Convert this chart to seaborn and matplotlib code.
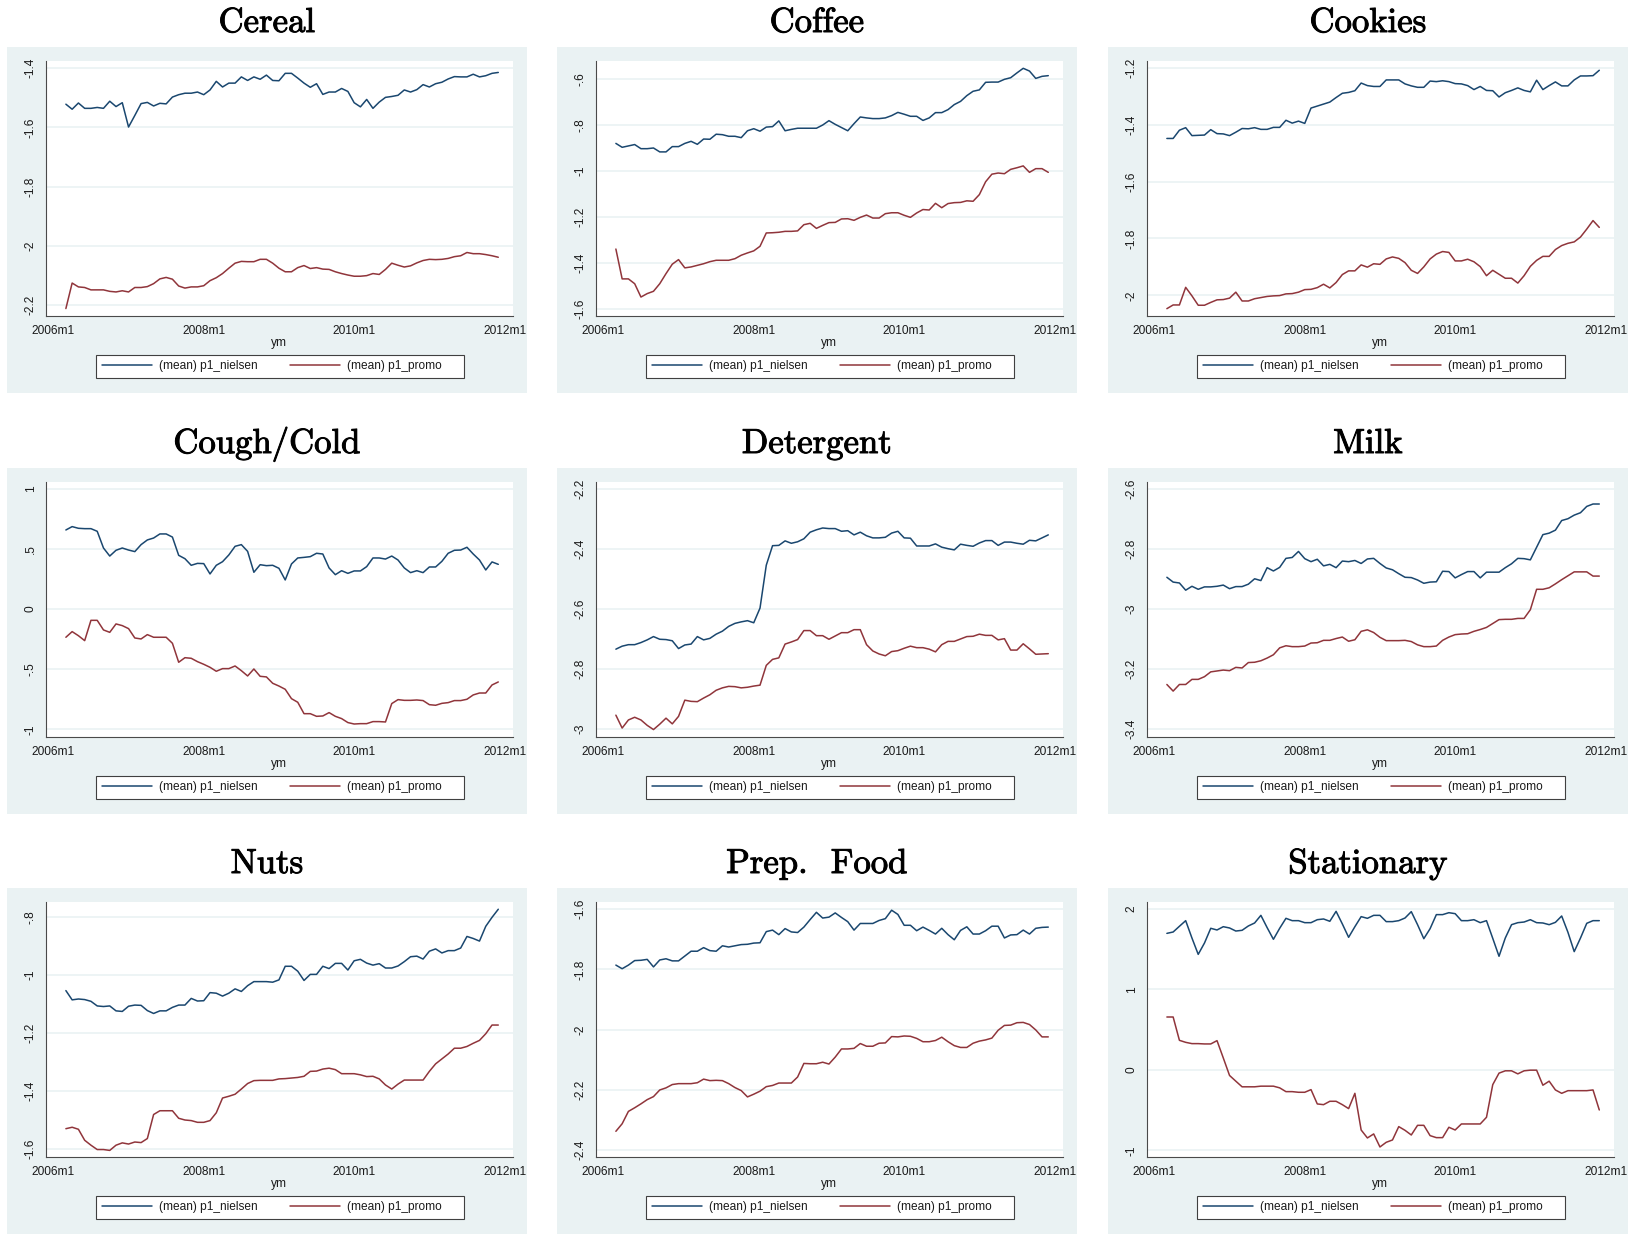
import matplotlib
matplotlib.use("Agg")
import matplotlib.pyplot as plt
import matplotlib.patheffects as pe
import seaborn as sns
import pandas as pd
from matplotlib.patches import Rectangle

# Monthly means, 2006m3 .. 2011m12 (70 months)
cereal_nielsen = [
    -1.522, -1.539, -1.518, -1.536, -1.536, -1.533, -1.536, -1.512, -1.530, -1.517,
    -1.599, -1.560, -1.520, -1.516, -1.528, -1.519, -1.521, -1.498, -1.490, -1.485,
    -1.485, -1.481, -1.490, -1.474, -1.445, -1.464, -1.451, -1.451, -1.430, -1.442,
    -1.430, -1.438, -1.424, -1.442, -1.443, -1.418, -1.418, -1.434, -1.451, -1.465,
    -1.453, -1.489, -1.481, -1.481, -1.469, -1.479, -1.517, -1.531, -1.506, -1.536,
    -1.515, -1.499, -1.496, -1.492, -1.474, -1.481, -1.473, -1.456, -1.464, -1.453,
    -1.448, -1.437, -1.429, -1.430, -1.430, -1.421, -1.430, -1.426, -1.418, -1.415]
cereal_promo = [
    -2.211, -2.125, -2.138, -2.140, -2.148, -2.148, -2.148, -2.153, -2.155, -2.151,
    -2.155, -2.140, -2.140, -2.137, -2.127, -2.111, -2.106, -2.112, -2.135, -2.142,
    -2.138, -2.138, -2.134, -2.117, -2.107, -2.093, -2.075, -2.058, -2.052, -2.053,
    -2.053, -2.045, -2.045, -2.058, -2.075, -2.087, -2.087, -2.073, -2.066, -2.076,
    -2.073, -2.078, -2.079, -2.087, -2.093, -2.098, -2.102, -2.102, -2.100, -2.093,
    -2.096, -2.079, -2.058, -2.065, -2.071, -2.067, -2.057, -2.049, -2.045, -2.046,
    -2.045, -2.042, -2.036, -2.033, -2.022, -2.026, -2.026, -2.029, -2.033, -2.038]

coffee_nielsen = [
    -0.879, -0.896, -0.890, -0.884, -0.902, -0.902, -0.899, -0.916, -0.916, -0.893,
    -0.893, -0.879, -0.870, -0.883, -0.860, -0.861, -0.839, -0.841, -0.848, -0.848,
    -0.854, -0.824, -0.815, -0.826, -0.808, -0.806, -0.781, -0.824, -0.818, -0.813,
    -0.813, -0.813, -0.813, -0.799, -0.780, -0.796, -0.810, -0.824, -0.793, -0.764,
    -0.768, -0.771, -0.771, -0.768, -0.758, -0.744, -0.752, -0.761, -0.761, -0.779,
    -0.768, -0.745, -0.745, -0.732, -0.710, -0.696, -0.671, -0.652, -0.646, -0.613,
    -0.612, -0.612, -0.600, -0.593, -0.572, -0.552, -0.564, -0.596, -0.587, -0.584]
coffee_promo = [
    -1.339, -1.469, -1.469, -1.490, -1.548, -1.533, -1.523, -1.490, -1.446, -1.405,
    -1.385, -1.421, -1.417, -1.410, -1.403, -1.394, -1.388, -1.388, -1.388, -1.381,
    -1.366, -1.356, -1.347, -1.327, -1.269, -1.268, -1.266, -1.262, -1.262, -1.260,
    -1.233, -1.227, -1.249, -1.236, -1.224, -1.223, -1.208, -1.207, -1.214, -1.201,
    -1.191, -1.204, -1.204, -1.185, -1.181, -1.181, -1.192, -1.201, -1.182, -1.167,
    -1.169, -1.140, -1.159, -1.141, -1.137, -1.136, -1.129, -1.131, -1.102, -1.046,
    -1.013, -1.008, -1.011, -0.992, -0.985, -0.977, -1.005, -0.989, -0.989, -1.005]

cookies_nielsen = [
    -1.448, -1.448, -1.419, -1.410, -1.438, -1.437, -1.436, -1.417, -1.431, -1.432,
    -1.438, -1.426, -1.413, -1.414, -1.410, -1.416, -1.416, -1.409, -1.409, -1.384,
    -1.394, -1.387, -1.395, -1.341, -1.334, -1.327, -1.320, -1.304, -1.289, -1.286,
    -1.280, -1.253, -1.262, -1.265, -1.265, -1.242, -1.242, -1.242, -1.256, -1.263,
    -1.268, -1.268, -1.246, -1.248, -1.245, -1.248, -1.255, -1.256, -1.262, -1.276,
    -1.265, -1.279, -1.280, -1.302, -1.287, -1.279, -1.270, -1.279, -1.284, -1.243,
    -1.276, -1.262, -1.249, -1.263, -1.263, -1.242, -1.228, -1.228, -1.227, -1.208]
cookies_promo = [
    -2.047, -2.034, -2.034, -1.972, -2.002, -2.035, -2.035, -2.025, -2.016, -2.015,
    -2.010, -1.989, -2.020, -2.020, -2.012, -2.008, -2.004, -2.002, -2.001, -1.995,
    -1.994, -1.989, -1.980, -1.979, -1.973, -1.961, -1.974, -1.955, -1.927, -1.914,
    -1.914, -1.893, -1.901, -1.889, -1.891, -1.872, -1.865, -1.870, -1.885, -1.912,
    -1.923, -1.900, -1.872, -1.855, -1.846, -1.849, -1.879, -1.879, -1.873, -1.882,
    -1.899, -1.931, -1.912, -1.926, -1.940, -1.940, -1.957, -1.931, -1.898, -1.877,
    -1.863, -1.863, -1.839, -1.825, -1.817, -1.812, -1.795, -1.767, -1.737, -1.761]

cough_nielsen = [
    0.659, 0.687, 0.673, 0.670, 0.670, 0.648, 0.509, 0.442, 0.490, 0.509,
    0.492, 0.479, 0.537, 0.576, 0.592, 0.626, 0.626, 0.600, 0.448, 0.420,
    0.365, 0.381, 0.379, 0.293, 0.365, 0.395, 0.451, 0.523, 0.537, 0.481,
    0.307, 0.370, 0.362, 0.365, 0.340, 0.243, 0.376, 0.426, 0.431, 0.437,
    0.465, 0.459, 0.343, 0.287, 0.320, 0.298, 0.318, 0.318, 0.354, 0.426,
    0.426, 0.417, 0.442, 0.409, 0.343, 0.304, 0.320, 0.304, 0.351, 0.351,
    0.398, 0.465, 0.490, 0.492, 0.515, 0.459, 0.409, 0.326, 0.393, 0.373]
cough_promo = [
    -0.234, -0.187, -0.221, -0.262, -0.093, -0.093, -0.173, -0.193, -0.123, -0.137,
    -0.162, -0.240, -0.248, -0.212, -0.234, -0.234, -0.234, -0.284, -0.442, -0.404,
    -0.409, -0.437, -0.459, -0.484, -0.517, -0.495, -0.495, -0.473, -0.512, -0.556,
    -0.498, -0.559, -0.564, -0.617, -0.640, -0.667, -0.745, -0.775, -0.870, -0.870,
    -0.892, -0.889, -0.861, -0.892, -0.911, -0.944, -0.956, -0.953, -0.953, -0.936,
    -0.936, -0.939, -0.786, -0.753, -0.759, -0.759, -0.756, -0.761, -0.795, -0.800,
    -0.784, -0.778, -0.761, -0.761, -0.750, -0.714, -0.698, -0.698, -0.631, -0.606]

detergent_nielsen = [
    -2.734, -2.724, -2.719, -2.719, -2.712, -2.703, -2.692, -2.701, -2.702, -2.706,
    -2.732, -2.720, -2.717, -2.692, -2.703, -2.698, -2.684, -2.674, -2.658, -2.648,
    -2.643, -2.639, -2.646, -2.597, -2.454, -2.389, -2.388, -2.373, -2.381, -2.376,
    -2.366, -2.344, -2.336, -2.330, -2.332, -2.332, -2.341, -2.339, -2.353, -2.344,
    -2.356, -2.363, -2.363, -2.361, -2.347, -2.341, -2.363, -2.364, -2.390, -2.390,
    -2.390, -2.383, -2.394, -2.399, -2.403, -2.384, -2.388, -2.391, -2.380, -2.372,
    -2.372, -2.388, -2.377, -2.377, -2.381, -2.384, -2.371, -2.373, -2.363, -2.353]
detergent_promo = [
    -2.954, -2.997, -2.970, -2.961, -2.970, -2.988, -3.002, -2.984, -2.964, -2.983,
    -2.958, -2.904, -2.908, -2.909, -2.897, -2.886, -2.871, -2.863, -2.858, -2.859,
    -2.863, -2.861, -2.857, -2.854, -2.788, -2.768, -2.763, -2.717, -2.710, -2.702,
    -2.672, -2.672, -2.689, -2.689, -2.701, -2.690, -2.679, -2.679, -2.669, -2.669,
    -2.719, -2.740, -2.750, -2.756, -2.742, -2.739, -2.731, -2.724, -2.729, -2.729,
    -2.734, -2.743, -2.719, -2.708, -2.708, -2.700, -2.692, -2.691, -2.684, -2.688,
    -2.688, -2.703, -2.699, -2.737, -2.737, -2.716, -2.733, -2.751, -2.750, -2.749]

milk_nielsen = [
    -2.894, -2.910, -2.913, -2.937, -2.924, -2.934, -2.926, -2.926, -2.924, -2.920,
    -2.932, -2.925, -2.925, -2.917, -2.899, -2.905, -2.862, -2.873, -2.861, -2.831,
    -2.828, -2.808, -2.832, -2.842, -2.834, -2.856, -2.851, -2.862, -2.840, -2.842,
    -2.838, -2.848, -2.833, -2.831, -2.848, -2.863, -2.869, -2.882, -2.894, -2.895,
    -2.903, -2.914, -2.910, -2.909, -2.874, -2.875, -2.896, -2.885, -2.875, -2.875,
    -2.896, -2.877, -2.877, -2.877, -2.862, -2.849, -2.831, -2.832, -2.836, -2.794,
    -2.752, -2.747, -2.737, -2.705, -2.699, -2.687, -2.679, -2.658, -2.650, -2.650]
milk_promo = [
    -3.251, -3.273, -3.251, -3.251, -3.234, -3.234, -3.225, -3.209, -3.206, -3.203,
    -3.205, -3.194, -3.196, -3.178, -3.177, -3.172, -3.163, -3.152, -3.129, -3.122,
    -3.125, -3.125, -3.123, -3.113, -3.112, -3.104, -3.104, -3.098, -3.093, -3.107,
    -3.102, -3.074, -3.069, -3.078, -3.094, -3.105, -3.105, -3.105, -3.104, -3.108,
    -3.119, -3.125, -3.125, -3.123, -3.104, -3.093, -3.085, -3.083, -3.082, -3.074,
    -3.068, -3.061, -3.048, -3.035, -3.034, -3.034, -3.031, -3.031, -3.002, -2.934,
    -2.934, -2.929, -2.916, -2.902, -2.889, -2.876, -2.876, -2.876, -2.890, -2.890]

nuts_nielsen = [
    -1.053, -1.085, -1.082, -1.084, -1.090, -1.106, -1.108, -1.106, -1.123, -1.125,
    -1.107, -1.103, -1.104, -1.122, -1.132, -1.123, -1.123, -1.111, -1.103, -1.103,
    -1.080, -1.089, -1.088, -1.060, -1.062, -1.072, -1.062, -1.047, -1.056, -1.036,
    -1.022, -1.022, -1.022, -1.024, -1.016, -0.969, -0.969, -0.986, -1.018, -0.997,
    -0.997, -0.969, -0.977, -0.959, -0.959, -0.982, -0.950, -0.945, -0.958, -0.965,
    -0.960, -0.975, -0.975, -0.968, -0.953, -0.936, -0.934, -0.944, -0.917, -0.909,
    -0.923, -0.915, -0.915, -0.906, -0.866, -0.873, -0.882, -0.831, -0.800, -0.772]
nuts_promo = [
    -1.530, -1.525, -1.532, -1.570, -1.587, -1.602, -1.602, -1.605, -1.587, -1.579,
    -1.583, -1.576, -1.578, -1.564, -1.481, -1.468, -1.468, -1.468, -1.494, -1.500,
    -1.502, -1.508, -1.508, -1.502, -1.475, -1.424, -1.418, -1.411, -1.393, -1.374,
    -1.364, -1.363, -1.363, -1.363, -1.358, -1.357, -1.355, -1.353, -1.349, -1.332,
    -1.331, -1.324, -1.321, -1.326, -1.340, -1.340, -1.340, -1.344, -1.350, -1.349,
    -1.358, -1.379, -1.393, -1.376, -1.362, -1.362, -1.362, -1.362, -1.332, -1.306,
    -1.289, -1.272, -1.252, -1.252, -1.246, -1.235, -1.225, -1.202, -1.172, -1.172]

prep_nielsen = [
    -1.786, -1.798, -1.786, -1.771, -1.770, -1.767, -1.792, -1.769, -1.765, -1.772,
    -1.772, -1.756, -1.740, -1.740, -1.728, -1.738, -1.740, -1.722, -1.726, -1.722,
    -1.718, -1.717, -1.713, -1.712, -1.675, -1.670, -1.685, -1.665, -1.676, -1.678,
    -1.660, -1.635, -1.611, -1.630, -1.627, -1.613, -1.628, -1.642, -1.670, -1.648,
    -1.648, -1.648, -1.638, -1.632, -1.604, -1.618, -1.654, -1.654, -1.672, -1.660,
    -1.671, -1.683, -1.664, -1.685, -1.702, -1.671, -1.659, -1.683, -1.683, -1.672,
    -1.657, -1.657, -1.696, -1.686, -1.685, -1.670, -1.683, -1.664, -1.661, -1.660]
prep_promo = [
    -2.337, -2.312, -2.271, -2.259, -2.246, -2.232, -2.222, -2.200, -2.193, -2.182,
    -2.179, -2.179, -2.179, -2.176, -2.164, -2.169, -2.168, -2.169, -2.179, -2.192,
    -2.202, -2.223, -2.214, -2.204, -2.189, -2.185, -2.177, -2.177, -2.177, -2.157,
    -2.112, -2.113, -2.113, -2.108, -2.114, -2.091, -2.064, -2.064, -2.062, -2.046,
    -2.055, -2.055, -2.045, -2.044, -2.023, -2.024, -2.021, -2.022, -2.029, -2.040,
    -2.040, -2.036, -2.025, -2.040, -2.053, -2.059, -2.059, -2.045, -2.038, -2.034,
    -2.028, -2.002, -1.986, -1.985, -1.977, -1.976, -1.983, -2.001, -2.024, -2.024]

stationary_nielsen = [
    1.697, 1.714, 1.785, 1.855, 1.639, 1.436, 1.577, 1.760, 1.739, 1.780,
    1.764, 1.726, 1.735, 1.789, 1.826, 1.921, 1.768, 1.623, 1.760, 1.884,
    1.855, 1.855, 1.830, 1.830, 1.867, 1.876, 1.847, 1.971, 1.814, 1.648,
    1.780, 1.905, 1.884, 1.921, 1.921, 1.843, 1.843, 1.855, 1.888, 1.967,
    1.805, 1.631, 1.755, 1.930, 1.930, 1.954, 1.942, 1.855, 1.855, 1.867,
    1.830, 1.855, 1.635, 1.412, 1.639, 1.805, 1.830, 1.838, 1.867, 1.830,
    1.826, 1.805, 1.834, 1.913, 1.710, 1.470, 1.639, 1.822, 1.855, 1.855]
stationary_promo = [
    0.657, 0.657, 0.367, 0.342, 0.326, 0.326, 0.322, 0.322, 0.363, 0.148,
    -0.070, -0.141, -0.211, -0.211, -0.211, -0.203, -0.203, -0.203, -0.224, -0.271,
    -0.271, -0.279, -0.279, -0.246, -0.424, -0.433, -0.391, -0.391, -0.433, -0.482,
    -0.292, -0.748, -0.847, -0.797, -0.959, -0.901, -0.872, -0.706, -0.752, -0.810,
    -0.690, -0.690, -0.818, -0.843, -0.843, -0.714, -0.748, -0.673, -0.673, -0.673,
    -0.673, -0.590, -0.184, -0.041, -0.012, -0.012, -0.050, -0.012, -0.004, -0.004,
    -0.191, -0.141, -0.250, -0.292, -0.259, -0.259, -0.259, -0.259, -0.250, -0.499]

titles = ["Cereal", "Coffee", "Cookies", "Cough/Cold", "Detergent", "Milk",
          "Nuts", "Prep.  Food", "Stationary"]
nielsen = [cereal_nielsen, coffee_nielsen, cookies_nielsen, cough_nielsen,
           detergent_nielsen, milk_nielsen, nuts_nielsen, prep_nielsen,
           stationary_nielsen]
promo = [cereal_promo, coffee_promo, cookies_promo, cough_promo,
         detergent_promo, milk_promo, nuts_promo, prep_promo, stationary_promo]

# y ticks and their Stata-style labels for each category
yticks = [
    [-2.2, -2.0, -1.8, -1.6, -1.4],
    [-1.6, -1.4, -1.2, -1.0, -0.8, -0.6],
    [-2.0, -1.8, -1.6, -1.4, -1.2],
    [-1.0, -0.5, 0.0, 0.5, 1.0],
    [-3.0, -2.8, -2.6, -2.4, -2.2],
    [-3.4, -3.2, -3.0, -2.8, -2.6],
    [-1.6, -1.4, -1.2, -1.0, -0.8],
    [-2.4, -2.2, -2.0, -1.8, -1.6],
    [-1.0, 0.0, 1.0, 2.0],
]
yticklabels = [
    ["-2.2", "-2", "-1.8", "-1.6", "-1.4"],
    ["-1.6", "-1.4", "-1.2", "-1", "-.8", "-.6"],
    ["-2", "-1.8", "-1.6", "-1.4", "-1.2"],
    ["-1", "-.5", "0", ".5", "1"],
    ["-3", "-2.8", "-2.6", "-2.4", "-2.2"],
    ["-3.4", "-3.2", "-3", "-2.8", "-2.6"],
    ["-1.6", "-1.4", "-1.2", "-1", "-.8"],
    ["-2.4", "-2.2", "-2", "-1.8", "-1.6"],
    ["-1", "0", "1", "2"],
]
ylims = [(-2.2371, -1.3764), (-1.6319, -0.5202), (-2.0739, -1.1754),
         (-1.0666, 1.0583), (-3.0278, -2.1767), (-3.4269, -2.5767),
         (-1.6288, -0.7470), (-2.4232, -1.5768), (-1.0875, 2.0870)]

xticks = [0, 24, 48, 72]          # months since 2006m1
xticklabels = ["2006m1", "2008m1", "2010m1", "2012m1"]
months = list(range(2, 72))       # 2006m3 .. 2011m12
series_names = ["(mean) p1_nielsen", "(mean) p1_promo"]

NAVY = "#1A476F"
MAROON = "#90353B"
REGION = "#EAF2F3"
AXIS = "#4a4a4a"
TEXT = "#1a1a1a"

sns.set_theme(style="white")
plt.rcParams["font.family"] = ["Liberation Sans", "DejaVu Sans"]
plt.rcParams["axes.unicode_minus"] = False

W, H = 1631, 1234
fig = plt.figure(figsize=(W / 100, H / 100), dpi=100)
fig.patch.set_facecolor("white")

col_x = [7, 557, 1108]
row_y = [47, 468, 888]
PW, PH = 520, 346
PL, PR, PT, PB = 38.7, 505.7, 14.0, 269.3   # plot region inside each panel
AW, AH = PR - PL, PB - PT

for k in range(9):
    r, c = divmod(k, 3)
    x0, y0 = col_x[c], row_y[r]

    fig.add_artist(Rectangle((x0 / W, 1 - (y0 + PH) / H), PW / W, PH / H,
                             transform=fig.transFigure, facecolor=REGION,
                             edgecolor="none", zorder=0))
    title = fig.text((x0 + PW / 2) / W, 1 - (y0 - 15) / H, titles[k],
                     ha="center", va="baseline", fontsize=25,
                     family=["cmr10", "DejaVu Serif"], color="black")
    title.set_path_effects([pe.withStroke(linewidth=0.7, foreground="black")])

    ax = fig.add_axes([(x0 + PL) / W, 1 - (y0 + PB) / H, AW / W, AH / H])
    ax.set_facecolor("white")

    df = pd.DataFrame({
        "ym": months + months,
        "value": nielsen[k] + promo[k],
        "series": [series_names[0]] * len(months) + [series_names[1]] * len(months),
    })
    sns.lineplot(data=df, x="ym", y="value", hue="series",
                 hue_order=series_names, palette=[NAVY, MAROON],
                 linewidth=1.1, errorbar=None, legend=False, ax=ax)

    ax.set_xlim(-1.22, 73.3)
    ax.set_ylim(*ylims[k])
    ax.set_xticks(xticks)
    ax.set_xticklabels(xticklabels)
    ax.set_yticks(yticks[k])
    ax.set_yticklabels(yticklabels[k], rotation=90, va="center")

    ax.yaxis.grid(True, color=REGION, linewidth=1.2)
    ax.xaxis.grid(False)
    ax.set_axisbelow(True)
    for side in ("top", "right"):
        ax.spines[side].set_visible(False)
    for side in ("left", "bottom"):
        ax.spines[side].set_color(AXIS)
        ax.spines[side].set_linewidth(0.8)
    ax.tick_params(axis="both", direction="out", length=3.5, width=0.8,
                   color=AXIS, labelsize=8.6, labelcolor=TEXT)
    ax.tick_params(axis="y", pad=3)
    ax.tick_params(axis="x", pad=2.5)

    ax.set_ylabel("")
    ax.set_xlabel("ym", fontsize=8.6, color=TEXT, va="top")
    ax.xaxis.set_label_coords(0.5, -(290 - PB) / AH)

    # legend box spans panel x 89..455, top at panel y 308
    leg = ax.legend(handles=ax.lines[:2],
                    labels=[series_names[0], series_names[1] + "     "],
                    loc="upper left",
                    bbox_to_anchor=((89.3 - PL) / AW, -(308 - PB) / AH),
                    ncol=2, frameon=True, fancybox=False, framealpha=1,
                    edgecolor="#404040", facecolor="white", fontsize=8.6,
                    handlelength=4.2, handletextpad=0.6, columnspacing=2.7,
                    borderpad=0.45, borderaxespad=0)
    leg.get_frame().set_linewidth(0.8)
    for t in leg.get_texts():
        t.set_color(TEXT)

fig.savefig("out.png", dpi=100)
